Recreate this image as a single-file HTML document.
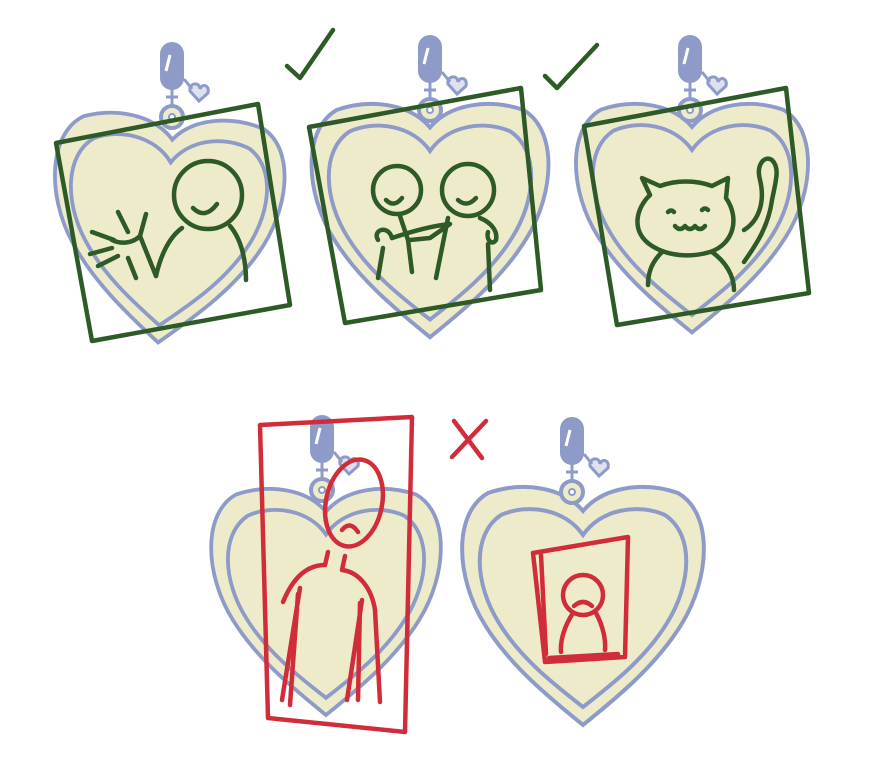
<!DOCTYPE html>
<html><head><meta charset="utf-8"><style>html,body{margin:0;padding:0;background:#fff}svg{display:block}</style></head>
<body>
<svg width="870" height="777" viewBox="0 0 870 777" xmlns="http://www.w3.org/2000/svg">
<defs>
<g id="heart">
  <path d="M0,26 C-20,2 -60,-4 -95,8 C-130,28 -128,92 -98,140 C-72,182 -32,214 0,240 C32,214 72,182 98,140 C128,92 130,28 95,8 C60,-4 20,2 0,26 Z" fill="#eeebcb" stroke="#8e9bc8" stroke-width="4"/>
  <path d="M0,50 C-18,24 -55,18 -82,30 C-112,50 -108,100 -84,138 C-62,174 -28,200 0,222 C28,200 62,174 84,138 C108,100 112,50 82,30 C55,18 18,24 0,50 Z" fill="none" stroke="#8e9bc8" stroke-width="4"/>
</g>
<g id="clasp">
  <circle cx="0" cy="0" r="11" fill="#eeebcb" stroke="#8e9bc8" stroke-width="4"/>
  <circle cx="0" cy="0" r="3" fill="#fff" stroke="#8e9bc8" stroke-width="2"/>
  <line x1="0" y1="-10" x2="0" y2="-28" stroke="#8e9bc8" stroke-width="3"/>
  <line x1="-6" y1="-20" x2="6" y2="-20" stroke="#8e9bc8" stroke-width="3"/>
  <rect x="-12" y="-75" width="24" height="48" rx="12" fill="#8e9bc8"/>
  <line x1="-2" y1="-62" x2="-6" y2="-46" stroke="#fff" stroke-width="3"/>
  <path d="M12,-38 l8,10 M18,-26 c-2,-8 10,-10 10,-2 c2,-6 10,-4 8,4 l-9,8 z" fill="#dfe1ee" stroke="#8e9bc8" stroke-width="3"/>
</g>
</defs>

<!-- heart 1 -->
<g transform="translate(174,115) rotate(4) scale(0.95)"><use href="#heart"/></g>
<g transform="translate(172,117)"><use href="#clasp"/></g>
<!-- heart 2 -->
<g transform="translate(430,102) scale(0.98)"><use href="#heart"/></g>
<g transform="translate(430,110)"><use href="#clasp"/></g>
<!-- heart 3 -->
<g transform="translate(692,102) scale(0.96)"><use href="#heart"/></g>
<g transform="translate(690,110)"><use href="#clasp"/></g>
<!-- heart 4 -->
<g transform="translate(326,487) scale(0.95)"><use href="#heart"/></g>
<g transform="translate(322,490)"><use href="#clasp"/></g>
<!-- heart 5 -->
<g transform="translate(583,485) scale(1.0)"><use href="#heart"/></g>
<g transform="translate(572,492)"><use href="#clasp"/></g>

<g fill="none" stroke="#2e5a28" stroke-width="4.5" stroke-linecap="round" stroke-linejoin="round">
  <path d="M287,66 L300,78 L333,30"/>
  <path d="M545,76 L557,88 L597,45"/>
  <path d="M56,143 L258,104 L290,305 L92,341 Z"/>
  <path d="M309,127 L521,88 L541,290 L345,323 Z"/>
  <path d="M584,126 L786,88 L809,293 L617,325 Z"/>
  <!-- figure 1 -->
  <circle cx="208" cy="195" r="34"/>
  <path d="M193,208 q12,12 24,-4"/>
  <path d="M182,228 C168,238 160,258 156,276"/>
  <path d="M230,226 C242,240 246,262 246,280"/>
  <path d="M156,276 L140,236"/>
  <path d="M140,236 C132,244 120,244 112,240 M140,236 L146,214 M128,232 L118,212 M114,240 L92,232 M112,248 L90,254 M118,256 L98,266 M128,258 L136,278"/>
  <!-- figure 2 -->
  <circle cx="397" cy="190" r="24"/>
  <path d="M386,200 q8,8 16,-2"/>
  <circle cx="468" cy="190" r="26"/>
  <path d="M458,200 q9,8 18,-2"/>
  <path d="M378,240 C372,230 388,224 392,238 M383,248 L378,278"/>
  <path d="M400,216 L408,240 L412,272"/>
  <path d="M392,238 C410,232 430,226 450,224 L430,238 L410,240"/>
  <path d="M448,218 L436,278"/>
  <path d="M480,218 C490,222 498,230 496,240 C492,246 486,240 488,232 M488,244 L490,290"/>
  <!-- cat -->
  <path d="M650,195 L642,178 L660,186 C676,180 696,180 712,186 L728,178 L726,198 C740,218 734,244 710,252 C690,258 668,256 652,246 C630,232 636,208 650,195 Z"/>
  <path d="M675,226 q5,6 10,0 q5,6 10,0 q5,6 10,0"/>
  <path d="M668,212 q3,-3 6,0 M702,210 q3,-3 6,0"/>
  <path d="M662,252 C652,262 648,272 648,285 M712,252 C726,262 734,276 734,290"/>
  <path d="M744,230 C760,220 765,200 760,180 C756,165 764,155 772,160 C780,168 776,180 772,200 C768,230 752,250 744,262"/>
</g>

<g fill="none" stroke="#d12c3a" stroke-width="4.5" stroke-linecap="round" stroke-linejoin="round">
  <path d="M454,421 L482,458 M486,421 L452,457"/>
  <path d="M260,425 L412,417 L405,732 L268,718 Z"/>
  <ellipse cx="354" cy="503" rx="28" ry="44" transform="rotate(12 354 503)"/>
  <path d="M342,530 q8,-10 16,2"/>
  <path d="M328,552 L325,565 C305,565 292,580 283,602"/>
  <path d="M345,556 L342,570 C360,572 372,590 375,610 L380,702"/>
  <path d="M300,588 L282,700 M298,594 L290,705"/>
  <path d="M362,600 L347,700 M360,603 L358,700"/>
  <path d="M533,553 L628,537 L625,657 L545,662 Z M541,555 L546,654"/>
  <circle cx="583" cy="595" r="20"/>
  <path d="M574,606 q9,-8 18,0"/>
  <path d="M573,613 C565,625 560,640 561,652 M596,613 C603,626 606,640 605,650"/>
  <path d="M549,658 L618,654"/>
</g>
</svg>
</body></html>
